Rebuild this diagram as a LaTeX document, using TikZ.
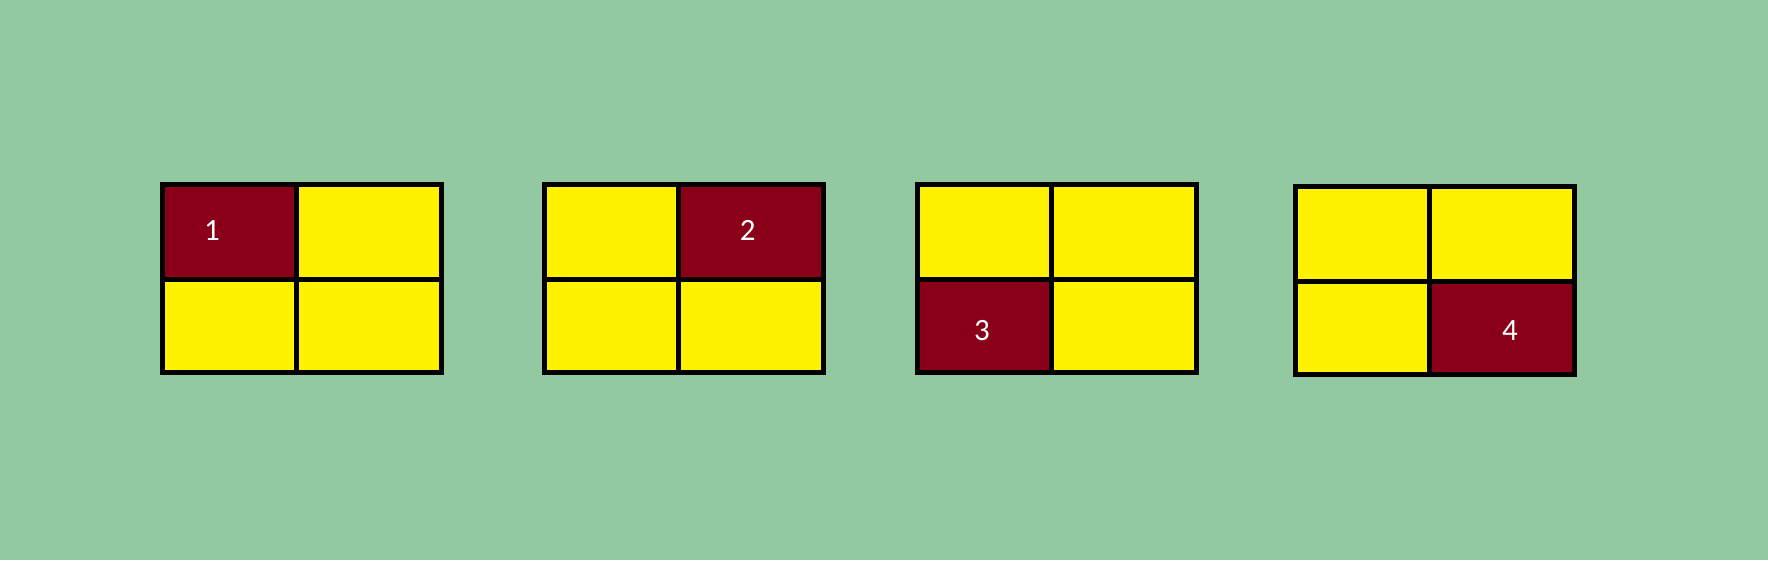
\documentclass[tikz,border=0pt]{standalone}
\usepackage{fontspec}
\setmainfont{Carlito}
\definecolor{bggreen}{RGB}{147,201,161}
\definecolor{cellyellow}{RGB}{255,242,0}
\definecolor{celldark}{RGB}{137,0,24}
\tikzset{
  gridline/.style={draw=black,line width=5pt},
  lbl/.style={text=white,font=\fontsize{31}{34}\selectfont,inner sep=0pt},
}
% #1 left, #2 top, #3 which dark cell (1..4)
\newcommand{\mygrid}[3]{%
  \begin{scope}[shift={(#1,#2)}]
    \fill[cellyellow] (0,0) rectangle (279,187.5);
    \ifcase#3\or
      \fill[celldark] (0,0) rectangle (134,95);\or
      \fill[celldark] (134,0) rectangle (279,95);\or
      \fill[celldark] (0,95) rectangle (134,187.5);\or
      \fill[celldark] (134,95) rectangle (279,187.5);\fi
    \draw[gridline] (134,0) -- (134,187.5);
    \draw[gridline] (0,95) -- (279,95);
    \draw[gridline] (0,0) rectangle (279,187.5);
  \end{scope}}
\begin{document}
\begin{tikzpicture}[x=1pt,y=-1pt]
  \fill[bggreen] (0,0) rectangle (1768,560);
  \useasboundingbox (0,0) rectangle (1768,560);
  \mygrid{162.5}{184.5}{1}
  \mygrid{544.5}{184.5}{2}
  \mygrid{917.5}{184.5}{3}
  \mygrid{1295.5}{186.5}{4}
  \node[lbl] (l1) at (212,230.7) {1};
  \node[lbl] (l2) at (747.7,230.7) {2};
  \node[lbl] (l3) at (982,330.7) {3};
  \node[lbl] (l4) at (1510,330.7) {4};
\end{tikzpicture}
\end{document}
